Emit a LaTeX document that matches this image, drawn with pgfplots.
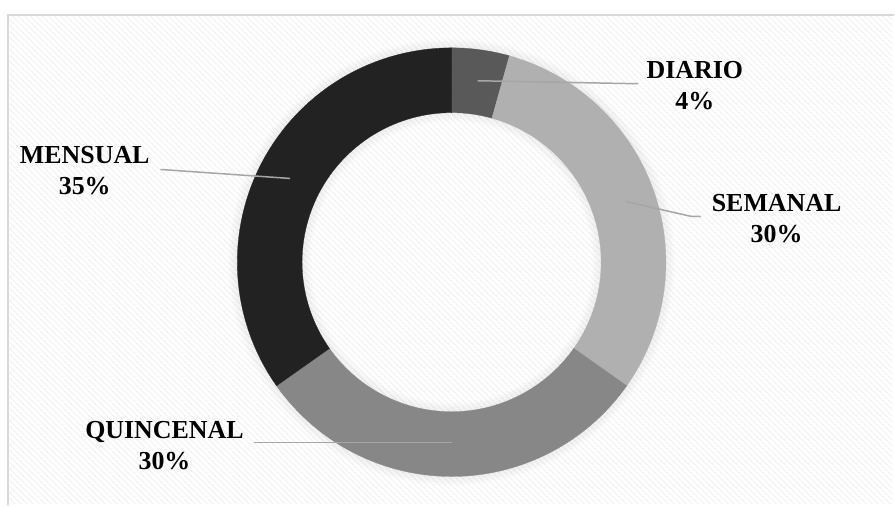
\documentclass[border=0pt]{standalone}
\usepackage{pgfplots}
\pgfplotsset{compat=1.18}
\usepackage{fontspec}
\setmainfont{Liberation Serif}
\usetikzlibrary{patterns.meta}
\definecolor{cDiario}{HTML}{595959}
\definecolor{cSemanal}{HTML}{B0B0B0}
\definecolor{cQuincenal}{HTML}{878787}
\definecolor{cMensual}{HTML}{222222}
\definecolor{leader}{HTML}{A6A6A6}
% values (counts; total 23)
\def\total{23}
\def\cx{453}\def\cy{242}\def\Ro{215}\def\Ri{150}
\newcommand\ringslice[3]{% #1 cumulative start, #2 value, #3 colour
  \def\pts{}%
  \pgfplotsforeachungrouped \k in {0,...,60}{%
    \pgfmathsetmacro\ang{90-360*(#1+#2*\k/60)/\total}%
    \pgfmathsetmacro\px{\cx+\Ro*cos(\ang)}%
    \pgfmathsetmacro\py{\cy+\Ro*sin(\ang)}%
    \edef\pts{\pts (\px,\py)}%
  }%
  \pgfplotsforeachungrouped \k in {60,...,0}{%
    \pgfmathsetmacro\ang{90-360*(#1+#2*\k/60)/\total}%
    \pgfmathsetmacro\px{\cx+\Ri*cos(\ang)}%
    \pgfmathsetmacro\py{\cy+\Ri*sin(\ang)}%
    \edef\pts{\pts (\px,\py)}%
  }%
  \edef\cmd{\noexpand\addplot[fill=#3,draw=#3,line width=0.3pt] coordinates {\pts} -- cycle;}%
  \cmd
}
\begin{document}
\begin{tikzpicture}
\begin{axis}[
  width=895pt, height=505pt, scale only axis,
  xmin=0, xmax=895, ymin=0, ymax=505,
  hide axis, clip=false,
]
% background panel
\fill[white] (axis cs:0,0) rectangle (axis cs:895,505);
\fill[pattern={Lines[angle=-45,distance=4pt,line width=1.3pt]}, pattern color=black!5]
  (axis cs:9,0) rectangle (axis cs:895,489);
\draw[black!15, line width=1.5pt] (axis cs:8,-2) -- (axis cs:8,490) -- (axis cs:897,490);
% soft shadow
\pgfplotsforeachungrouped \k in {1,...,10}{%
  \pgfmathsetmacro\op{0.045*(11-\k)/10}%
  \pgfmathsetmacro\ro{\Ro+\k-0.5}%
  \pgfmathsetmacro\ri{\Ri-\k+0.5}%
  \edef\cmd{\noexpand\draw[black, opacity=\op, line width=1.2pt] (axis cs:\cx,\cy) circle[radius=\ro];
    \noexpand\draw[black, opacity=\op, line width=1.2pt] (axis cs:\cx,\cy) circle[radius=\ri];}%
  \cmd
}
% slices: DIARIO 1, SEMANAL 7, QUINCENAL 7, MENSUAL 8
\ringslice{0}{1}{cDiario}
\ringslice{1}{7}{cSemanal}
\ringslice{8}{7}{cQuincenal}
\ringslice{15}{8}{cMensual}
% leader lines
\addplot[leader, line width=1.5pt] coordinates {(479,424) (640,421)};
\addplot[leader, line width=1.5pt] coordinates {(627,303) (693,288) (703,288)};
\addplot[leader, line width=1.5pt] coordinates {(161,335) (291,326)};
\addplot[leader, line width=1.5pt] coordinates {(255,61) (453,61)};
% labels
\tikzset{lbl/.style={align=center, font=\fontsize{26}{31}\selectfont\bfseries, inner sep=0pt}}
\node[lbl] at (axis cs:697,419) {DIARIO\\4\%};
\node[lbl] at (axis cs:779,286) {SEMANAL\\30\%};
\node[lbl] at (axis cs:85,334) {MENSUAL\\35\%};
\node[lbl] at (axis cs:165,58) {QUINCENAL\\30\%};
\end{axis}
\end{tikzpicture}
\end{document}
